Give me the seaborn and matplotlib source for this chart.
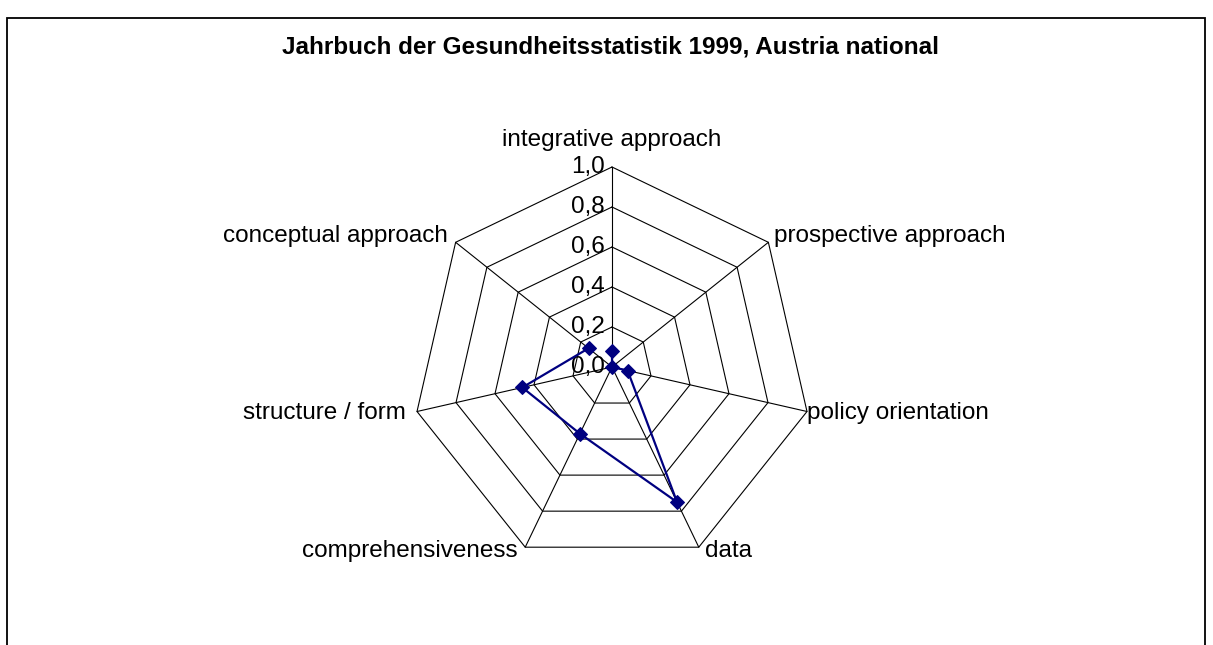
import numpy as np
import pandas as pd
import matplotlib.pyplot as plt
import matplotlib.patches as mpatches
import seaborn as sns

categories = ["integrative approach", "prospective approach", "policy orientation",
              "data", "comprehensiveness", "structure / form", "conceptual approach"]
values = [0.08, 0.0, 0.08, 0.75, 0.37, 0.46, 0.15]
rings = [0.2, 0.4, 0.6, 0.8, 1.0]
tick_labels = ["0,0", "0,2", "0,4", "0,6", "0,8", "1,0"]
title = "Jahrbuch der Gesundheitsstatistik 1999, Austria national"

sns.set_theme(style="white")
plt.rcParams['font.family'] = ['Liberation Sans', 'DejaVu Sans']
plt.rcParams['text.color'] = 'black'

n = len(categories)
ang = np.pi / 2 - 2 * np.pi * np.arange(n) / n  # clockwise from top
ux, uy = np.cos(ang), np.sin(ang)

fig = plt.figure(figsize=(12.13, 6.45), dpi=100)
ax = fig.add_axes([0, 0, 1, 1])
# 1 data unit = 200 px, centre at pixel (612, 367)
ax.set_xlim(-612 / 200, (1213 - 612) / 200)
ax.set_ylim(-(645 - 367) / 200, 367 / 200)
ax.set_axis_off()

# grid rings and spokes
for r in rings:
    ax.plot(np.append(ux, ux[0]) * r, np.append(uy, uy[0]) * r, color="black", lw=0.8, zorder=1)
for i in range(n):
    ax.plot([0, ux[i]], [0, uy[i]], color="black", lw=0.8, zorder=1)

# data series
df = pd.DataFrame({"x": list(np.array(values) * ux) + [values[0] * ux[0]],
                   "y": list(np.array(values) * uy) + [values[0] * uy[0]]})
sns.lineplot(data=df, x="x", y="y", sort=False, color="#000080", lw=1.6,
             marker="D", markersize=7.5, markeredgecolor="#000080", ax=ax, zorder=3)
ax.set_xlabel("")
ax.set_ylabel("")

# tick labels along top spoke
for k, lab in enumerate(tick_labels):
    ax.text(-0.035, k * 0.2, lab, ha="right", va="center", fontsize=17.5, color="black", zorder=2)

# category labels
fs = 17.5
kw = dict(va="center", fontsize=fs, color="black")
ax.text(ux[0], uy[0] + 0.135, categories[0], ha="center", **kw)
ax.text(ux[1] + 0.03, uy[1] + 0.03, categories[1], ha="left", **kw)
ax.text(ux[2] + 0.0, uy[2] - 0.005, categories[2], ha="left", **kw)
ax.text(ux[3] + 0.03, uy[3] - 0.02, categories[3], ha="left", **kw)
ax.text(ux[4] - 0.04, uy[4] - 0.02, categories[4], ha="right", **kw)
ax.text(ux[5] - 0.055, uy[5] - 0.005, categories[5], ha="right", **kw)
ax.text(ux[6] - 0.04, uy[6] + 0.03, categories[6], ha="right", **kw)

fig.text(611 / 1213, 1 - 47 / 645, title, ha="center", va="center",
         fontsize=17.5, fontweight="bold", color="black")

# chart frame
fig.patches.append(mpatches.Rectangle((7 / 1213, -0.1), 1198 / 1213, 1.1 - 18 / 645,
                                      transform=fig.transFigure, fill=False,
                                      edgecolor="black", lw=1.3))

fig.savefig("out.png", dpi=100)
